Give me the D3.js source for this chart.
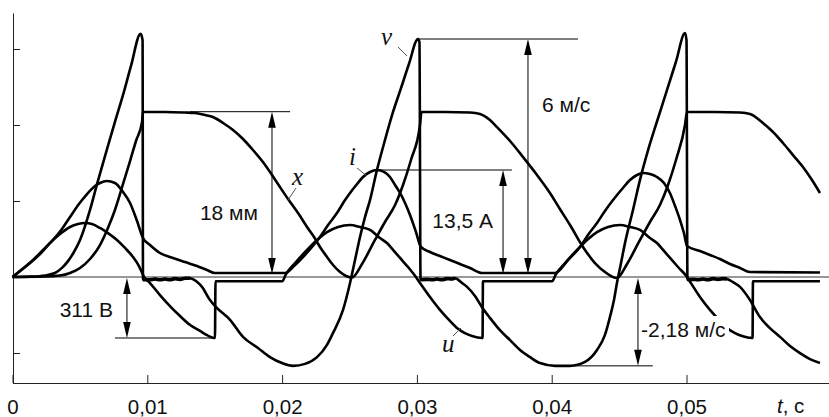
<!DOCTYPE html>
<html>
<head>
<meta charset="utf-8">
<script src="https://cdn.jsdelivr.net/npm/d3@7"></script>
<style>
    body { margin: 0; background: #fff; }
    svg text { font-family: "Liberation Sans", Arial, sans-serif; fill: #111; }
</style>
</head>
<body>
<svg id="chart" width="829" height="417"></svg>
<script>
// time in ms, values in physical units

// velocity v, m/s
var vT = [0, 1.30, 2.41, 3.15, 3.67, 4.12, 4.56, 5.01, 5.75, 6.27, 6.99, 7.60, 8.20, 8.79, 9.50, 9.65, 9.68,
    10.20, 10.57, 10.94, 11.31, 11.68, 12.05, 12.43, 12.80, 13.18,
    13.61, 14.06, 14.65, 15.10, 16.14, 17.10, 18.21, 19.10, 19.99, 20.81, 21.70,
    22.59, 23.33, 23.78, 24.52, 25.04, 25.41, 25.78, 26.15, 26.52, 27.04, 27.63, 28.23, 28.82, 29.41, 30.08, 30.19, 30.27,
    30.75, 31.12, 31.49, 31.86, 32.23, 32.60, 32.83,
    33.35, 33.72, 34.31, 34.83, 35.42, 36.16, 36.91, 37.65, 38.39, 39.13, 40.24, 41.36,
    42.47, 43.36, 43.95, 44.32, 44.62, 44.84, 45.07, 45.44, 46.03, 46.55, 47.15, 47.81, 48.55, 49.22, 49.89, 50.00, 50.07,
    50.48, 50.85, 51.22, 51.59, 51.97, 52.34, 52.71, 53.00,
    53.45, 53.97, 54.71, 55.45, 56.19, 56.94, 57.68, 58.42, 59.16, 59.90];
var vVal = [0, 0.01, 0.04, 0.10, 0.23, 0.40, 0.63, 0.93, 1.69, 2.34, 3.20, 3.91, 4.59, 5.32, 6.13, 5.97, -0.07,
    -0.07, -0.05, -0.07, -0.05, -0.07, -0.04, -0.06, -0.03, -0.03,
    -0.10, -0.25, -0.58, -0.76, -1.08, -1.51, -1.79, -2.02, -2.17, -2.24, -2.19,
    -2.02, -1.71, -1.41, -0.83, -0.15, 0.43, 1.01, 1.51, 1.94, 2.70, 3.45, 4.16, 4.76, 5.37, 6.00, 5.92, -0.07,
    -0.06, -0.07, -0.05, -0.07, -0.04, -0.05, -0.03,
    -0.15, -0.25, -0.48, -0.76, -1.03, -1.34, -1.59, -1.84, -2.02, -2.17, -2.24, -2.24,
    -2.14, -1.84, -1.46, -1.01, -0.58, -0.15, 0.23, 0.86, 1.69, 2.45, 3.20, 3.92, 4.71, 5.43, 6.15, 5.97, -0.07,
    -0.06, -0.07, -0.05, -0.07, -0.04, -0.06, -0.04, -0.05,
    -0.13, -0.25, -0.58, -1.01, -1.29, -1.51, -1.74, -1.92, -2.07, -2.17];

// displacement x, mm
var xT = [0, 2.41, 3.52, 4.27, 5.01, 5.75, 6.49, 7.08, 7.60, 8.20, 8.72, 9.16, 9.61, 9.68,
    11.31, 12.80, 13.54, 14.28, 14.87, 15.62, 16.36, 17.10, 17.84, 18.58, 19.25, 19.84, 20.44, 21.33, 21.85, 22.37, 22.81, 23.33, 23.78, 24.30, 24.74, 25.19,
    25.93, 26.89, 27.63, 28.38, 28.97, 29.56, 30.23, 30.34,
    32.08, 33.94, 34.68, 35.42, 35.94, 36.91, 37.87, 38.91, 39.87, 40.61, 41.36, 42.32, 43.21, 43.95, 44.47, 44.84,
    45.59, 46.55, 47.29, 48.03, 48.63, 49.22, 49.89, 50.04,
    52.11, 53.97, 54.71, 55.67, 56.42, 57.16, 57.90, 58.64, 59.31, 59.90];
var xVal = [0, 0.05, 0.16, 0.44, 0.98, 1.96, 3.48, 5.34, 7.30, 10.13, 12.63, 14.81, 16.88, 17.97,
    17.97, 17.91, 17.86, 17.64, 17.42, 16.77, 16.01, 15.03, 13.83, 12.52, 11.11, 9.80, 8.49, 6.64, 5.44, 4.36, 3.27, 2.18, 1.31, 0.54, 0.11, -0.05,
    1.42, 4.03, 5.99, 7.84, 10.02, 12.74, 16.55, 17.97,
    17.97, 17.91, 17.75, 17.09, 16.33, 14.81, 13.07, 11.11, 9.15, 7.40, 5.66, 3.27, 1.52, 0.54, 0.05, -0.11,
    1.42, 4.03, 5.99, 7.84, 10.02, 12.74, 16.55, 17.97,
    17.97, 17.91, 17.75, 16.77, 15.79, 14.59, 13.28, 11.98, 10.56, 9.15];

// current i, A
var iT = [0, 0.56, 1.52, 2.26, 3.00, 3.67, 4.27, 4.93, 5.53, 6.12, 6.49, 6.99, 7.60, 8.20, 8.72, 9.24, 9.68,
    10.20, 10.94, 11.91, 12.80, 13.69, 14.43, 15.02, 20.07, 20.22,
    20.96, 21.55, 22.22, 22.81, 23.41, 24.07, 24.67, 25.04, 25.56, 26.00, 26.52, 27.04, 27.56, 28.00, 28.38, 28.75, 29.12, 29.49, 29.93, 30.30,
    30.97, 31.71, 32.45, 33.20, 33.94, 34.83, 40.24,
    41.21, 42.10, 42.69, 43.36, 43.95, 44.55, 45.22, 45.81, 46.33, 46.77, 47.29, 47.81, 48.33, 48.77, 49.15, 49.52, 49.81, 50.04,
    51.00, 51.74, 52.48, 53.23, 53.97, 54.71, 59.90];
var iVal = [0, 0.76, 2.15, 3.41, 4.67, 6.06, 7.57, 9.21, 10.47, 11.48, 11.86, 12.11, 11.86, 10.72, 9.34, 7.07, 4.92,
    4.04, 3.03, 2.40, 1.89, 1.39, 0.88, 0.50, 0.50, 0.50,
    1.51, 2.52, 3.79, 5.05, 6.56, 8.07, 9.71, 10.60, 11.73, 12.62, 13.25, 13.50, 13.25, 12.62, 11.61, 10.60, 9.34, 7.82, 5.68, 3.79,
    3.15, 2.65, 2.14, 1.64, 1.14, 0.50, 0.50,
    2.14, 3.79, 5.30, 6.81, 8.33, 9.71, 11.10, 12.24, 12.87, 13.12, 13.00, 12.62, 11.86, 10.60, 8.96, 7.19, 5.55, 3.91,
    3.28, 2.78, 2.27, 1.64, 1.14, 0.63, 0.57];

// voltage u, V
var uT = [0, 0.56, 1.30, 2.04, 2.78, 3.52, 4.27, 4.86, 5.38, 5.90, 6.49, 7.08, 7.75, 8.35, 8.94, 9.38, 9.76,
    10.20, 10.94, 11.68, 12.43, 13.18, 13.91, 14.43, 14.95, 15.02, 15.06, 20.00,
    20.29, 20.96, 21.85, 22.59, 23.33, 24.15, 25.04, 25.78, 26.52, 27.26, 27.78, 28.23, 28.75, 29.34, 29.93,
    30.23, 30.97, 31.71, 32.45, 32.97, 33.56, 34.09, 34.83, 34.87, 34.90, 40.02,
    40.32, 40.99, 41.88, 42.62, 43.36, 44.18, 45.07, 45.81, 46.55, 47.29, 47.81, 48.26, 48.78, 49.37, 50.04,
    50.33, 51.00, 51.74, 52.48, 53.00, 53.60, 54.12, 54.86, 54.90, 54.93, 59.90];
var uVal = [0, 31, 71, 117, 173, 219, 255, 270, 275, 270, 250, 224, 189, 148, 102, 56, 0,
    -31, -92, -148, -199, -245, -275, -296, -311, -311, -22, -22,
    15, 71, 138, 189, 229, 255, 265, 255, 240, 199, 173, 138, 97, 51, 0,
    -31, -102, -168, -224, -260, -286, -301, -311, -311, -22, -22,
    15, 71, 138, 189, 229, 255, 265, 255, 240, 199, 173, 138, 97, 51, 0,
    -31, -102, -168, -224, -260, -286, -301, -311, -311, -22, -22];

// axis ticks
var tickMs = [0, 10, 20, 30, 40, 50];
var tickLabels = ["0", "0,01", "0,02", "0,03", "0,04", "0,05"];
var divTicks = [-1, 0, 1, 2, 3];

// dimension marks
var markText = ["18 мм", "311 В", "13,5 А", "6 м/с", "-2,18 м/с"];
var markValue = [18, -311, 13.5, 6, -2.24];

// armature bounce after impact (drawn heavier)
var bounceSpans = [[9.68, 13.18], [30.27, 32.83], [50.07, 53.0]];

var svg = d3.select("#chart");

var xs = d3.scaleLinear().domain([0, 60]).range([12.5, 821.3]);
// one screen division = 76 px, zero trace at y = 277
var yDiv = d3.scaleLinear().domain([-106 / 76, 264 / 76]).range([383, 13]);

function traceScale(unitsPerDiv) {
    return d3.scaleLinear()
        .domain(yDiv.domain().map(function (d) { return d * unitsPerDiv; }))
        .range(yDiv.range());
}
var yV = traceScale(1.916),
    yX = traceScale(8.276),
    yI = traceScale(9.589),
    yU = traceScale(387.5);

// axes
var gx = svg.append("g")
    .attr("transform", "translate(0,383)")
    .call(d3.axisBottom(xs)
        .tickValues(tickMs)
        .tickFormat(function (d, i) { return tickLabels[i]; })
        .tickSizeInner(-8)
        .tickSizeOuter(0)
        .tickPadding(16));
gx.attr("font-size", null).attr("font-family", null);
gx.select(".domain").remove();
gx.selectAll(".tick line").attr("stroke", "#222");
gx.selectAll(".tick text").style("font-size", "20.5px");

var gy = svg.append("g")
    .attr("transform", "translate(13,0)")
    .call(d3.axisLeft(yDiv)
        .tickValues(divTicks)
        .tickSizeInner(-7)
        .tickSizeOuter(0)
        .tickFormat(""));
gy.select(".domain").attr("stroke", "#222");
gy.selectAll(".tick line").attr("stroke", "#222");

svg.append("line")
    .attr("x1", 13).attr("x2", 829)
    .attr("y1", 383.5).attr("y2", 383.5)
    .attr("stroke", "#222");

// zero trace
svg.append("line")
    .attr("x1", 13).attr("x2", 829)
    .attr("y1", yDiv(0)).attr("y2", yDiv(0))
    .attr("stroke", "#333").attr("stroke-width", 1);

var axisName = svg.append("text")
    .attr("x", 777).attr("y", 413)
    .style("font-size", "20.5px");
axisName.append("tspan").style("font-style", "italic").text("t");
axisName.append("tspan").text(", с");

// traces
function traceLine(yScale) {
    return d3.line()
        .x(function (d) { return xs(d[0]); })
        .y(function (d) { return yScale(d[1]); })
        .curve(d3.curveMonotoneX);
}
function drawTrace(tArr, valArr, yScale) {
    svg.append("path")
        .datum(d3.zip(tArr, valArr))
        .attr("d", traceLine(yScale))
        .attr("fill", "none")
        .attr("stroke", "#000")
        .attr("stroke-width", 2.6)
        .attr("stroke-linejoin", "round");
}
drawTrace(uT, uVal, yU);
drawTrace(iT, iVal, yI);
drawTrace(xT, xVal, yX);
drawTrace(vT, vVal, yV);

var vPts = d3.zip(vT, vVal);
bounceSpans.forEach(function (s) {
    svg.append("path")
        .datum(vPts.filter(function (d) { return d[0] >= s[0] && d[0] <= s[1]; }))
        .attr("d", traceLine(yV))
        .attr("fill", "none")
        .attr("stroke", "#000")
        .attr("stroke-width", 3.6);
});

// dimension lines with double arrows
var dim = svg.append("g").attr("stroke", "#000").attr("stroke-width", 1);

function hLine(t0, t1, y) {
    dim.append("line")
        .attr("x1", xs(t0)).attr("x2", xs(t1))
        .attr("y1", y).attr("y2", y);
}
function vArrow(t, yTop, yBot) {
    var xp = xs(t);
    dim.append("line")
        .attr("x1", xp).attr("x2", xp)
        .attr("y1", yTop + 4).attr("y2", yBot - 4);
    dim.append("path")
        .attr("d", "M" + xp + "," + yTop + "L" + (xp - 3.8) + "," + (yTop + 16) + "L" + (xp + 3.8) + "," + (yTop + 16) + "Z")
        .attr("fill", "#000").attr("stroke", "none");
    dim.append("path")
        .attr("d", "M" + xp + "," + yBot + "L" + (xp - 3.8) + "," + (yBot - 16) + "L" + (xp + 3.8) + "," + (yBot - 16) + "Z")
        .attr("fill", "#000").attr("stroke", "none");
}
function label(txt, x, y, anchor) {
    return svg.append("text")
        .attr("x", x).attr("y", y)
        .attr("text-anchor", anchor)
        .style("font-size", "21px")
        .text(txt);
}

// 18 мм
hLine(13.18, 20.59, yX(markValue[0]));
vArrow(19.25, yX(markValue[0]), yX(0) - 3);
label(markText[0], 258, 219.5, "end");

// 311 В
hLine(7.6, 14.87, yU(markValue[1]));
vArrow(8.49, yU(0) + 1, yU(markValue[1]));
label(markText[1], 113, 316.5, "end");

// 13,5 А
hLine(27.0, 37.05, yI(markValue[2]));
vArrow(36.39, yI(markValue[2]), yI(0) - 3);
label(markText[2], 493, 227.5, "end");

// 6 м/с
hLine(30.08, 41.95, yV(markValue[3]));
vArrow(38.24, yV(markValue[3]), yV(0) - 3);
label(markText[3], 542, 112, "start");

// -2,18 м/с (text sits on a white box over the u trace)
hLine(41.36, 47.5, yV(markValue[4]));
vArrow(46.40, yV(0) + 1, yV(markValue[4]));
svg.append("rect")
    .attr("x", 641).attr("y", 316).attr("width", 88).attr("height", 24)
    .attr("fill", "#fff");
label(markText[4], 641, 336.5, "start");

// trace names with leaders
var names = [
    { n: "v", x: 381, y: 45, l: [398, 47, 407, 56] },
    { n: "i", x: 349, y: 165, l: [357, 168, 367, 176] },
    { n: "x", x: 292, y: 185, l: [296, 188, 288, 200] },
    { n: "u", x: 442, y: 352, l: [453, 336, 461, 328] }
];
names.forEach(function (d) {
    svg.append("line")
        .attr("x1", d.l[0]).attr("y1", d.l[1])
        .attr("x2", d.l[2]).attr("y2", d.l[3])
        .attr("stroke", "#555").attr("stroke-width", 1);
    svg.append("text")
        .attr("x", d.x).attr("y", d.y)
        .style("font-family", "'Liberation Serif', 'Times New Roman', serif")
        .style("font-style", "italic")
        .style("font-size", "25px")
        .text(d.n);
});
</script>
</body>
</html>
